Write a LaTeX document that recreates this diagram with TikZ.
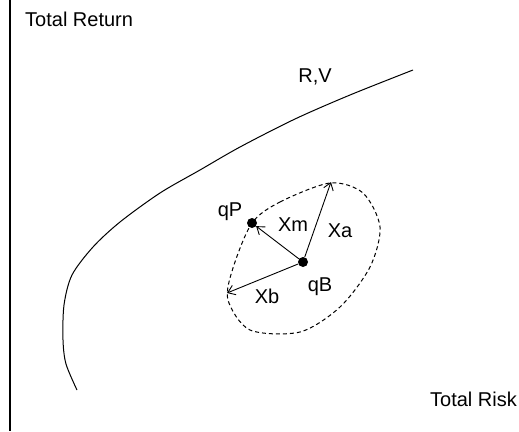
\documentclass[tikz,border=0pt]{standalone}
\usepackage{fontspec}
\setmainfont{Liberation Sans}
\usetikzlibrary{arrows.meta}

\begin{document}
\begin{tikzpicture}[
    x=1pt, y=-1pt,
    lbl/.style={font=\fontsize{20}{24}\selectfont, inner sep=0pt},
    dot/.style={circle, fill=black, minimum size=10pt, inner sep=0pt},
    arrow/.style={-{Straight Barb[length=7pt,width=10pt]}, line width=0.9pt},
    region/.style={dash pattern=on 4pt off 3pt, line width=1pt}
]
    \useasboundingbox (0,0) rectangle (519,431);
    % axis
    \coordinate (top) at (10,0);
    \coordinate (bottom) at (10,431);
    \draw[line width=1.5pt] (top) -- (bottom);
    \node[lbl, anchor=west] (ret) at (25,19) {Total Return};
    \node[lbl, anchor=east] (risk) at (517,399) {Total Risk};
    % frontier
    \draw[line width=1pt] plot[smooth] coordinates {(77,390) (66,364) (63,340) (64,305)
        (72,275) (93,247) (120,222) (160,193) (200,170) (240,147) (295,119) (350,95) (413,70)};
    \node[lbl] (rv) at (315,77) {R,V};
    % region around qB
    \draw[region] plot[smooth cycle] coordinates {(252,223) (280,202) (330,183) (363,193)
        (380,227) (370,267) (340,307) (300,332) (250,330) (228,300) (233,268)};
    \node[dot] (qB) at (303,262) {};
    \node[dot] (qP) at (252,223) {};
    \coordinate (xa) at (331,182);
    \coordinate (xb) at (227,293);
    \draw[arrow] (qB) -- (qP);
    \draw[arrow] (qB) -- (xa);
    \draw[arrow] (qB) -- (xb);
    \node[lbl] (qPl) at (230,212) {qP};
    \node[lbl] (qBl) at (320,287) {qB};
    \node[lbl] (xml) at (293,225) {Xm};
    \node[lbl] (xal) at (340,231) {Xa};
    \node[lbl] (xbl) at (267,296) {Xb};
\end{tikzpicture}
\end{document}
